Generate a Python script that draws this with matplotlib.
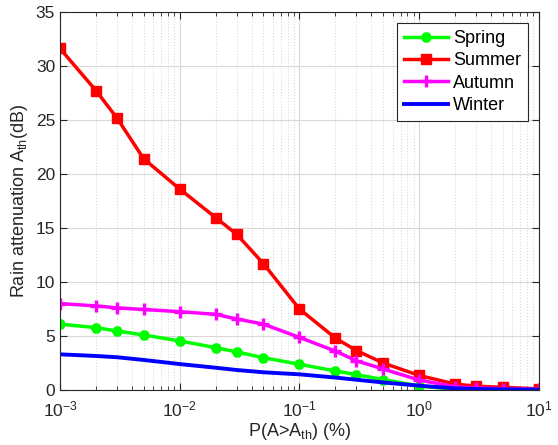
import numpy as np
import matplotlib.pyplot as plt

plt.rcParams['font.family'] = ['Liberation Sans', 'DejaVu Sans']

# exceedance probability (%)
p = [0.001, 0.002, 0.003, 0.005, 0.01, 0.02, 0.03, 0.05,
     0.1, 0.2, 0.3, 0.5, 1, 2, 3, 5, 10]

spring = [6.1, 5.77, 5.46, 5.09, 4.54, 3.92, 3.52, 2.99,
          2.38, 1.76, 1.42, 0.97, 0.37, 0.06, 0.04, 0.03, 0.02]
summer = [31.6, 27.7, 25.15, 21.4, 18.6, 15.95, 14.4, 11.7,
          7.5, 4.8, 3.65, 2.5, 1.35, 0.55, 0.35, 0.25, 0.1]
autumn = [8.0, 7.78, 7.6, 7.45, 7.25, 7.0, 6.57, 6.1,
          4.87, 3.6, 2.7, 1.95, 0.92, 0.3, 0.2, 0.12, 0.06]
winter = [3.3, 3.15, 3.03, 2.78, 2.4, 2.06, 1.85, 1.64,
          1.45, 1.15, 0.95, 0.7, 0.4, 0.15, 0.1, 0.06, 0.03]

fig = plt.figure(figsize=(5.58, 4.45), dpi=100)
ax = fig.add_axes([0.1075, 0.1236, 0.858, 0.85])

lw = 2.5
ax.semilogx(p, spring, '-', color='#00ff00', lw=lw, marker=(6, 2, 0),
            ms=7, mew=3.2, label='Spring')
ax.semilogx(p, summer, '-', color='#ff0000', lw=lw, marker='s',
            ms=7, label='Summer')
ax.semilogx(p, autumn, '-', color='#ff00ff', lw=lw, marker='+',
            ms=9, mew=2.4, label='Autumn')
ax.semilogx(p, winter, '-', color='#0000ff', lw=lw + 0.3, label='Winter')

ax.set_xlim(1e-3, 10)
ax.set_ylim(0, 35)
ax.set_yticks(np.arange(0, 36, 5))

ax.grid(True, which='major', color='#d8d8d8', lw=0.8)
ax.grid(True, which='minor', axis='x', color='#dadada', lw=0.8, ls=':')
ax.set_axisbelow(True)

ax.tick_params(which='both', direction='in', top=True, right=True,
               labelsize=12.5, colors='#262626')
ax.tick_params(axis='x', which='major', pad=7)
ax.tick_params(which='major', length=5)
ax.tick_params(which='minor', length=3)
for s in ax.spines.values():
    s.set_color('#262626')
    s.set_linewidth(0.8)

ax.set_xlabel(r'P(A>A$_\mathregular{th}$) (%)', fontsize=13, color='#262626',
              labelpad=1)
ax.set_ylabel(r'Rain attenuation A$_\mathregular{th}$(dB)', fontsize=13,
              color='#262626')

leg = ax.legend(loc='upper right', bbox_to_anchor=(0.978, 0.971),
                borderaxespad=0, fontsize=13, fancybox=False, framealpha=1,
                edgecolor='#262626', handlelength=2.4, borderpad=0.4,
                labelspacing=0.3, handletextpad=0.3)
leg.get_frame().set_linewidth(0.8)

fig.savefig('out.png', dpi=100)
